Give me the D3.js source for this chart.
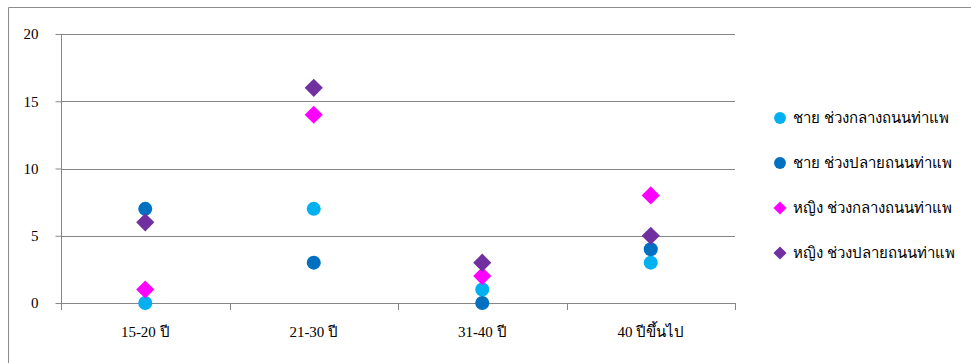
<!DOCTYPE html>
<html>
<head>
<meta charset="utf-8">
<script src="https://cdn.jsdelivr.net/npm/d3@7"></script>
<style>
  body { margin: 0; background: #fff; }
  svg { display: block; }
</style>
</head>
<body>
<svg id="chart" width="971" height="363"></svg>
<script>
// data
var categories = ["15-20 ปี", "21-30 ปี", "31-40 ปี", "40 ปีขึ้นไป"];
var seriesNames = ["ชาย ช่วงกลางถนนท่าแพ", "ชาย ช่วงปลายถนนท่าแพ",
                   "หญิง ช่วงกลางถนนท่าแพ", "หญิง ช่วงปลายถนนท่าแพ"];
var maleMiddle = [0, 7, 1, 3];
var maleEnd = [7, 3, 0, 4];
var femaleMiddle = [1, 14, 2, 8];
var femaleEnd = [6, 16, 3, 5];
var yTicks = [0, 5, 10, 15, 20];

var seriesValues = [maleMiddle, maleEnd, femaleMiddle, femaleEnd];
var colors = ["#00b0f0", "#0070c0", "#ff00ff", "#7030a0"];
var shapes = [d3.symbolCircle, d3.symbolCircle, d3.symbolDiamond2, d3.symbolDiamond2];

var svg = d3.select("#chart");
var font = "'Liberation Serif', 'Times New Roman', serif";

var margin = {top: 34, left: 61};
var width = 674, height = 269;

// outer frame (only top and left edges show in the picture)
svg.append("line").attr("x1", 8.5).attr("x2", 971).attr("y1", 7.5).attr("y2", 7.5)
  .attr("stroke", "#8c8c8c");
svg.append("line").attr("x1", 8.5).attr("x2", 8.5).attr("y1", 7.5).attr("y2", 363)
  .attr("stroke", "#8c8c8c");

var g = svg.append("g").attr("transform", "translate(" + margin.left + "," + margin.top + ")");

var x = d3.scaleBand().domain(categories).range([0, width]);
var y = d3.scaleLinear().domain([0, 20]).range([height, 0]);

// gridlines
g.append("g")
  .selectAll("line")
  .data(yTicks)
  .enter().append("line")
  .attr("x1", 0).attr("x2", width)
  .attr("y1", function(d) { return Math.round(y(d)) + 0.5; })
  .attr("y2", function(d) { return Math.round(y(d)) + 0.5; })
  .attr("stroke", "#868686");

// y axis
var yAxis = g.append("g")
  .attr("transform", "translate(0.5,0)")
  .call(d3.axisLeft(y).tickValues(yTicks).tickSize(6).tickPadding(17));
yAxis.select(".domain").attr("stroke", "#868686").attr("d", "M0," + y(20) + "V" + (height + 0.5));
yAxis.selectAll(".tick line").attr("stroke", "#868686");
yAxis.selectAll("text").style("font", "15px " + font).attr("fill", "#000");

// x axis
var xAxis = g.append("g")
  .attr("transform", "translate(0," + (height + 0.5) + ")")
  .call(d3.axisBottom(x).tickSize(0).tickPadding(23));
xAxis.select(".domain").attr("stroke", "#868686").attr("d", "M0,0H" + width);
xAxis.selectAll("text").style("font", "15px " + font).attr("fill", "#000");

// boundary ticks between categories
g.append("g")
  .selectAll("line")
  .data(d3.range(categories.length + 1))
  .enter().append("line")
  .attr("x1", function(i) { return Math.round(i * x.step()) + 0.5; })
  .attr("x2", function(i) { return Math.round(i * x.step()) + 0.5; })
  .attr("y1", height).attr("y2", height + 7)
  .attr("stroke", "#868686");

// markers
seriesValues.forEach(function(vals, s) {
  var sym = d3.symbol().type(shapes[s]).size(s < 2 ? 155 : 210);
  g.append("g")
    .selectAll("path")
    .data(vals)
    .enter().append("path")
    .attr("d", sym)
    .attr("transform", function(d, i) {
      return "translate(" + (x(categories[i]) + x.bandwidth() / 2) + "," + y(d) + ")";
    })
    .attr("fill", colors[s]);
});

// legend
var legend = svg.append("g")
  .selectAll("g")
  .data(seriesNames)
  .enter().append("g")
  .attr("transform", function(d, i) { return "translate(780," + (118 + i * 45) + ")"; });

legend.append("path")
  .attr("d", function(d, i) { return d3.symbol().type(shapes[i]).size(110)(); })
  .attr("fill", function(d, i) { return colors[i]; });

legend.append("text")
  .attr("x", 13)
  .attr("dy", "0.35em")
  .style("font", "15px " + font)
  .attr("fill", "#000")
  .text(function(d) { return d; });
</script>
</body>
</html>
